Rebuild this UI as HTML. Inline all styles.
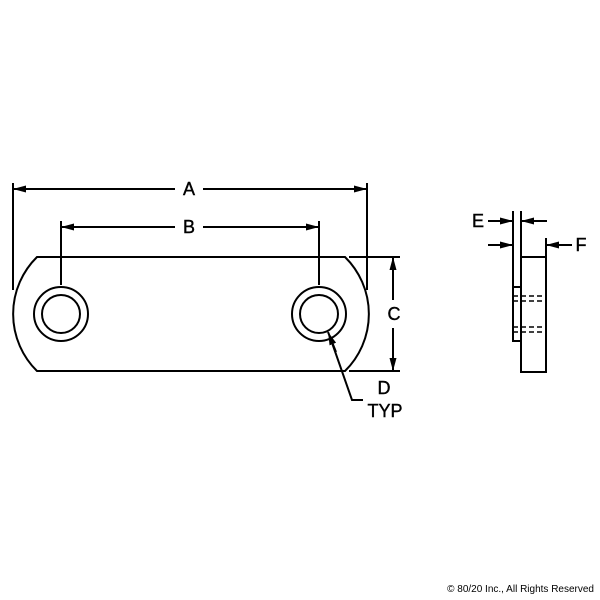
<!DOCTYPE html>
<html><head><style>body{margin:0;background:#fff}svg{display:block}</style></head><body>
<svg width="600" height="600" xmlns="http://www.w3.org/2000/svg" font-family="Liberation Sans, sans-serif">
<defs><marker id="ar" markerWidth="13" markerHeight="7" refX="13" refY="3.5" orient="auto" markerUnits="userSpaceOnUse"><path d="M0,0L13,3.5L0,7z" fill="#000"/></marker></defs>
<g stroke="#000" stroke-width="2" fill="none">
<path d="M37,257 L345,257 A80,80 0 0 1 345,371 L37,371 A80,80 0 0 1 37,257 Z"/>
<circle cx="61" cy="314" r="27"/><circle cx="61" cy="314" r="19"/>
<circle cx="319" cy="314" r="27"/><circle cx="319" cy="314" r="19"/>
<line x1="13" y1="183" x2="13" y2="290"/><line x1="367" y1="183" x2="367" y2="290"/>
<line x1="61" y1="221" x2="61" y2="285"/><line x1="319" y1="221" x2="319" y2="285"/>
<line x1="175" y1="189" x2="13" y2="189" marker-end="url(#ar)"/><line x1="203" y1="189" x2="367" y2="189" marker-end="url(#ar)"/>
<line x1="175" y1="227" x2="61" y2="227" marker-end="url(#ar)"/><line x1="203" y1="227" x2="319" y2="227" marker-end="url(#ar)"/>
<line x1="349" y1="257" x2="400" y2="257"/><line x1="349" y1="371" x2="400" y2="371"/>
<line x1="393" y1="300" x2="393" y2="257" marker-end="url(#ar)"/><line x1="393" y1="328" x2="393" y2="371" marker-end="url(#ar)"/>
<polyline points="363,400 352,400 330,337"/><line x1="336" y1="352" x2="328" y2="332" marker-end="url(#ar)"/>
<rect x="513" y="287" width="8" height="54"/><rect x="521" y="257" width="25" height="115"/>
<line x1="513" y1="211" x2="513" y2="287"/><line x1="521" y1="211" x2="521" y2="257"/><line x1="546" y1="238" x2="546" y2="257"/>
<line x1="488" y1="221" x2="513" y2="221" marker-end="url(#ar)"/><line x1="547" y1="221" x2="521" y2="221" marker-end="url(#ar)"/>
<line x1="488" y1="245" x2="513" y2="245" marker-end="url(#ar)"/><line x1="572" y1="245" x2="546" y2="245" marker-end="url(#ar)"/>
<g stroke-dasharray="5,3" stroke-width="1.6"><line x1="513" y1="296" x2="546" y2="296"/><line x1="513" y1="301" x2="546" y2="301"/><line x1="513" y1="327" x2="546" y2="327"/><line x1="513" y1="332" x2="546" y2="332"/></g>
</g>
<g font-size="18" text-anchor="middle" stroke="#000" stroke-width="0.4">
<text x="189" y="195">A</text><text x="189" y="233">B</text><text x="394" y="320">C</text>
<text x="384" y="394">D</text><text x="385" y="417">TYP</text>
<text x="478" y="227">E</text><text x="581" y="251">F</text>
</g>
<text x="594" y="592" font-size="10" text-anchor="end">© 80/20 Inc., All Rights Reserved</text>
</svg>
</body></html>
